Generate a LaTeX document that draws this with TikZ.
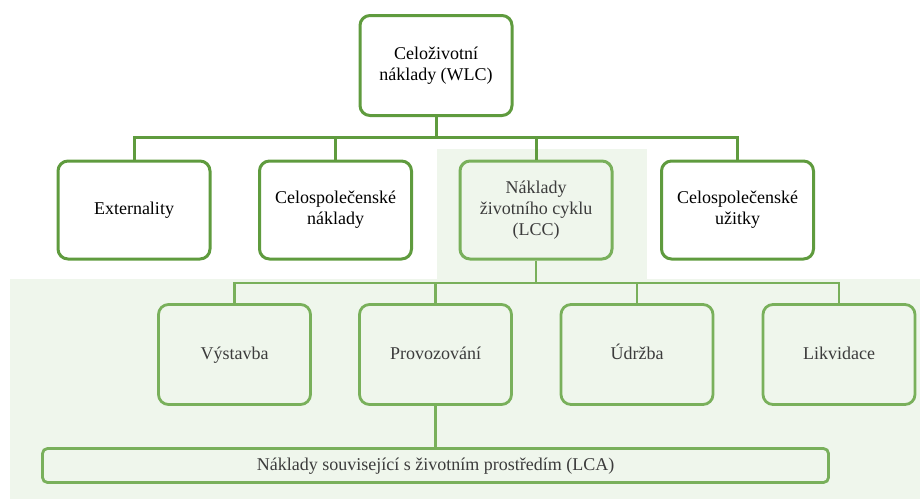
\documentclass[tikz,border=0pt]{standalone}
\usepackage{fontspec}
\setmainfont{Liberation Serif}
\usetikzlibrary{positioning}
\definecolor{LeafDark}{HTML}{5F9B3E}
\definecolor{Leaf}{HTML}{79B05B}
\definecolor{Wash}{HTML}{EFF6EC}
\definecolor{InkGray}{HTML}{3C3C3C}

\begin{document}
\begin{tikzpicture}[x=1pt,y=-1pt,
  every node/.style={align=center,font=\fontsize{18}{21}\selectfont,inner sep=2pt},
  upbox/.style={draw=LeafDark,line width=3pt,rounded corners=10pt,fill=white,text=black,minimum width=152pt,minimum height=98pt},
  lowbox/.style={draw=Leaf,line width=2.8pt,rounded corners=10pt,fill=Wash,text=InkGray,minimum width=152pt,minimum height=100pt,text height=13pt,text depth=4pt},
  upline/.style={draw=LeafDark,line width=3pt},
  lowline/.style={draw=Leaf,line width=2.8pt}]
  \useasboundingbox (0,0) rectangle (920,499);
  % light panels behind the LCC part
  \fill[Wash] (10,279) rectangle (920,499);
  \fill[Wash] (437,149) rectangle (647,279);

  \node[upbox,minimum height=100pt] (wlc) at (436,65.5) {Celoživotní\\náklady (WLC)};
  \node[upbox] (ext) at (134,210) {Externality};
  \node[upbox] (cen) at (335.5,210) {Celospolečenské\\náklady};
  \node[upbox,fill=Wash,draw=Leaf,text=InkGray] (lcc) at (536,210) {Náklady\\životního cyklu\\(LCC)};
  \node[upbox] (uzi) at (737.5,210) {Celospolečenské\\užitky};

  \node[lowbox] (vys) at (234.5,354.5) {Výstavba};
  \node[lowbox] (pro) at (435.5,354.5) {Provozování};
  \node[lowbox] (udr) at (637,354.5) {Údržba};
  \node[lowbox] (lik) at (839,354.5) {Likvidace};
  \node[lowbox,minimum width=786pt,minimum height=34pt,rounded corners=5pt] (lca) at (435.5,465.5) {Náklady související s~životním prostředím (LCA)};

  \coordinate (bus1) at (436,137);
  \coordinate (bus2) at (536,283);
  % connectors
  \draw[upline] (wlc.south) -- (bus1);
  \draw[upline] (ext.north) |- (bus1) -| (uzi.north);
  \draw[upline] (cen.north) -- (cen.north |- bus1);
  \draw[upline] (lcc.north) -- (lcc.north |- bus1);
  \draw[lowline] (lcc.south) -- (bus2);
  \draw[lowline] (vys.north) |- (bus2) -| (lik.north);
  \draw[lowline] (pro.north) -- (pro.north |- bus2);
  \draw[lowline] (udr.north) -- (udr.north |- bus2);
  \draw[lowline] (pro.south) -- (lca.north);
\end{tikzpicture}
\end{document}
